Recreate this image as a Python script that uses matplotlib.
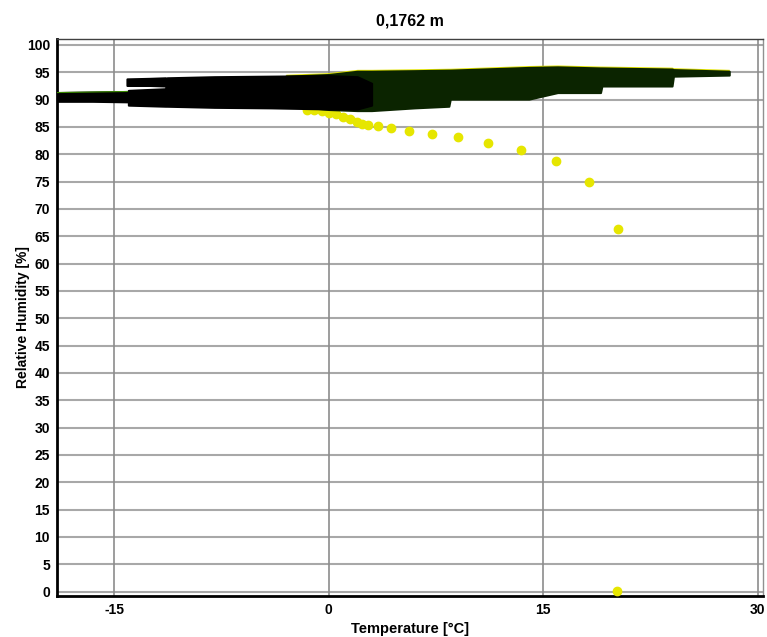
import matplotlib
matplotlib.use('Agg')
import matplotlib.pyplot as plt

# yellow series (cooling curve)
yel_x = [-1.5, -1.0, -0.5, 0.0, 0.5, 1.0, 1.5, 2.0, 2.3, 2.73, 3.42, 4.33, 5.59, 7.24, 9.01,
         11.13, 13.44, 15.86, 18.19, 20.22, 20.15]
yel_y = [88.2, 88.1, 87.9, 87.6, 87.3, 86.9, 86.5, 86.0, 85.6, 85.4, 85.2, 84.8, 84.3, 83.8, 83.2,
         82.1, 80.8, 78.7, 75.0, 66.3, 0.2]

# dense measured cloud, read as envelopes (x, lower RH, upper RH)
grn_x = [-3.0, 0.0, 2.0, 3.0, 6.0, 8.4, 8.5, 14.0, 16.0, 19.0, 19.1, 24.0, 24.1, 28.0]
grn_lo = [89.0, 88.2, 88.0, 88.0, 88.5, 88.8, 90.1, 90.1, 91.3, 91.3, 92.5, 92.5, 94.3, 94.5]
grn_hi = [94.3, 94.6, 95.2, 95.2, 95.3, 95.4, 95.4, 95.9, 96.0, 95.8, 95.8, 95.6, 95.5, 95.2]

blk_x = [-14.0, -11.4, -11.3, -8.0, -4.0, 0.0, 2.0, 3.0]
blk_lo = [89.0, 88.8, 88.8, 88.6, 88.5, 88.3, 88.3, 89.0]
blk_hi = [91.7, 92.0, 94.0, 94.2, 94.3, 94.4, 94.2, 93.0]

tail_x = [-19.0, -16.5, -14.0]
tail_lo = [89.7, 89.7, 89.6]
tail_hi = [91.3, 91.4, 91.5]

upper_x = [-14.1, -12.5, -11.4]
upper_lo = [92.6, 92.6, 92.5]
upper_hi = [93.8, 93.9, 94.0]

plt.rcParams['font.family'] = ['Liberation Sans', 'DejaVu Sans']
plt.rcParams['font.weight'] = 'bold'
plt.rcParams['axes.unicode_minus'] = False

fig = plt.figure(figsize=(7.67, 6.37), dpi=100)
ax = fig.add_axes([0.0743, 0.0644, 0.9205, 0.8744])

# grid
for v in range(0, 101, 5):
    ax.axhline(v, color='#a8a8a8', lw=1.5, zorder=0)
for v in [-15, 0, 15, 30]:
    ax.axvline(v, color='#8c8c8c', lw=1.2, zorder=0)

# yellow edge on top of cloud
ax.fill_between(grn_x, [h - 0.5 for h in grn_hi], [h + 0.35 for h in grn_hi],
                color='#e2e200', lw=0, zorder=2)
ax.plot(yel_x, yel_y, 'o', color='#e6e600', ms=6, mec='#e6e600', zorder=3, ls='none')
ax.plot(yel_x[:9], yel_y[:9], '-', color='#e6e600', lw=4, zorder=3)

# cloud
ax.fill_between(grn_x, grn_lo, grn_hi, color='#0b2400', lw=1.5, ec='#0b2400', zorder=4)
ax.fill_between(tail_x, tail_lo, tail_hi, color='#000000', lw=1.5, ec='#000000', zorder=5)
ax.plot(tail_x, tail_hi, color='#3a8a00', lw=0.8, zorder=5)
ax.fill_between(upper_x, upper_lo, upper_hi, color='#000000', lw=1.5, ec='#000000', zorder=5)
ax.fill_between(blk_x, blk_lo, blk_hi, color='#000000', lw=1.5, ec='#000000', zorder=5)

ax.set_xlim(-18.99, 30.36)
ax.set_ylim(-0.79, 101.1)
ax.set_xticks([-15, 0, 15, 30])
ax.set_yticks(range(0, 101, 5))
ax.tick_params(length=0, labelsize=10, pad=5)
for lab in ax.get_xticklabels() + ax.get_yticklabels():
    lab.set_fontweight('bold')

for s in ['left', 'bottom']:
    ax.spines[s].set_linewidth(2)
    ax.spines[s].set_color('black')
ax.spines['top'].set_linewidth(1)
ax.spines['top'].set_color('#404040')
ax.spines['right'].set_linewidth(1)
ax.spines['right'].set_color('#909090')

ax.set_xlabel('Temperature [°C]', fontsize=10.5, fontweight='bold', labelpad=4)
ax.set_ylabel('Relative Humidity [%]', fontsize=10, fontweight='bold', labelpad=-2)
ax.set_title('0,1762 m', fontsize=11.5, fontweight='bold', pad=10)

fig.savefig('out.png', dpi=100)
